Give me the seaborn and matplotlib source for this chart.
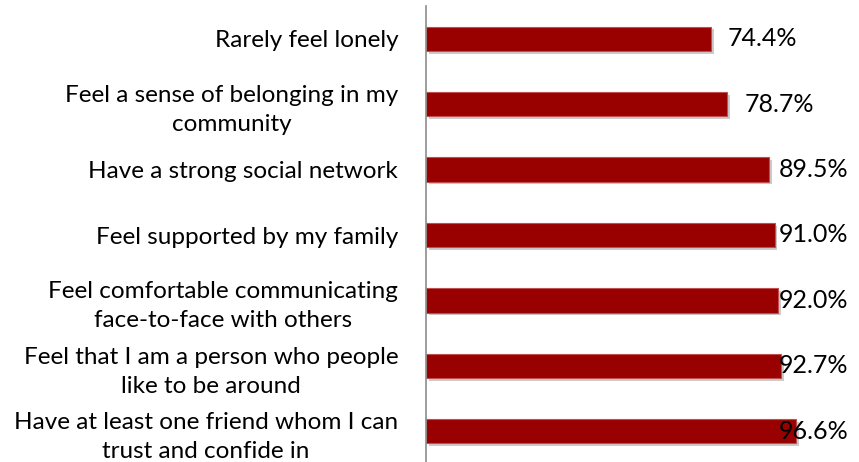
import matplotlib
matplotlib.use("Agg")
import matplotlib.pyplot as plt
import matplotlib.patheffects as pe
import seaborn as sns
import pandas as pd

categories = [
    "Rarely feel lonely",
    "Feel a sense of belonging in my\ncommunity",
    "Have a strong social network",
    "Feel supported by my family",
    "Feel comfortable communicating\nface-to-face with others",
    "Feel that I am a person who people\nlike to be around",
    "Have at least one friend whom I can\ntrust and confide in",
]
values = [74.4, 78.7, 89.5, 91.0, 92.0, 92.7, 96.6]
value_labels = ["74.4%", "78.7%", "89.5%", "91.0%", "92.0%", "92.7%", "96.6%"]

df = pd.DataFrame({"item": categories, "pct": values})

sns.set_theme(style="white")
plt.rcParams["font.family"] = ["Lato", "DejaVu Sans"]

W, H = 859, 462
fig = plt.figure(figsize=(W / 100, H / 100), dpi=100)
ax = fig.add_axes([426 / W, -2 / H, 383 / W, 458 / H])

sns.barplot(data=df, y="item", x="pct", orient="h", color="#990000",
            saturation=1, width=0.37, ax=ax)

for bar in ax.patches:
    bar.set_edgecolor("#c05050")
    bar.set_linewidth(0.8)
    bar.set_path_effects([
        pe.SimplePatchShadow(offset=(2, -2), shadow_rgbFace="#999999", alpha=0.5),
        pe.Normal(),
    ])

ax.set_xlim(0, 100)
ax.set_ylim(6.5, -0.5)
ax.set_xlabel("")
ax.set_ylabel("")
ax.set_xticks([])

for s in ["top", "right", "bottom"]:
    ax.spines[s].set_visible(False)
ax.spines["left"].set_color("#8c8c8c")
ax.spines["left"].set_linewidth(1.2)

ax.tick_params(axis="y", length=0, pad=20, labelsize=17.5, labelcolor="black")
for t in ax.get_yticklabels():
    t.set_multialignment("center")
    t.set_linespacing(1.45)

# value labels: just past the bar end, but kept inside the plot area
label_cap = 92.2
for i, (v, lab) in enumerate(zip(values, value_labels)):
    x = min(v + 4.4, label_cap)
    ax.text(x, i, lab, va="center", ha="left", fontsize=18, color="black")

fig.savefig("out.png", dpi=100)
